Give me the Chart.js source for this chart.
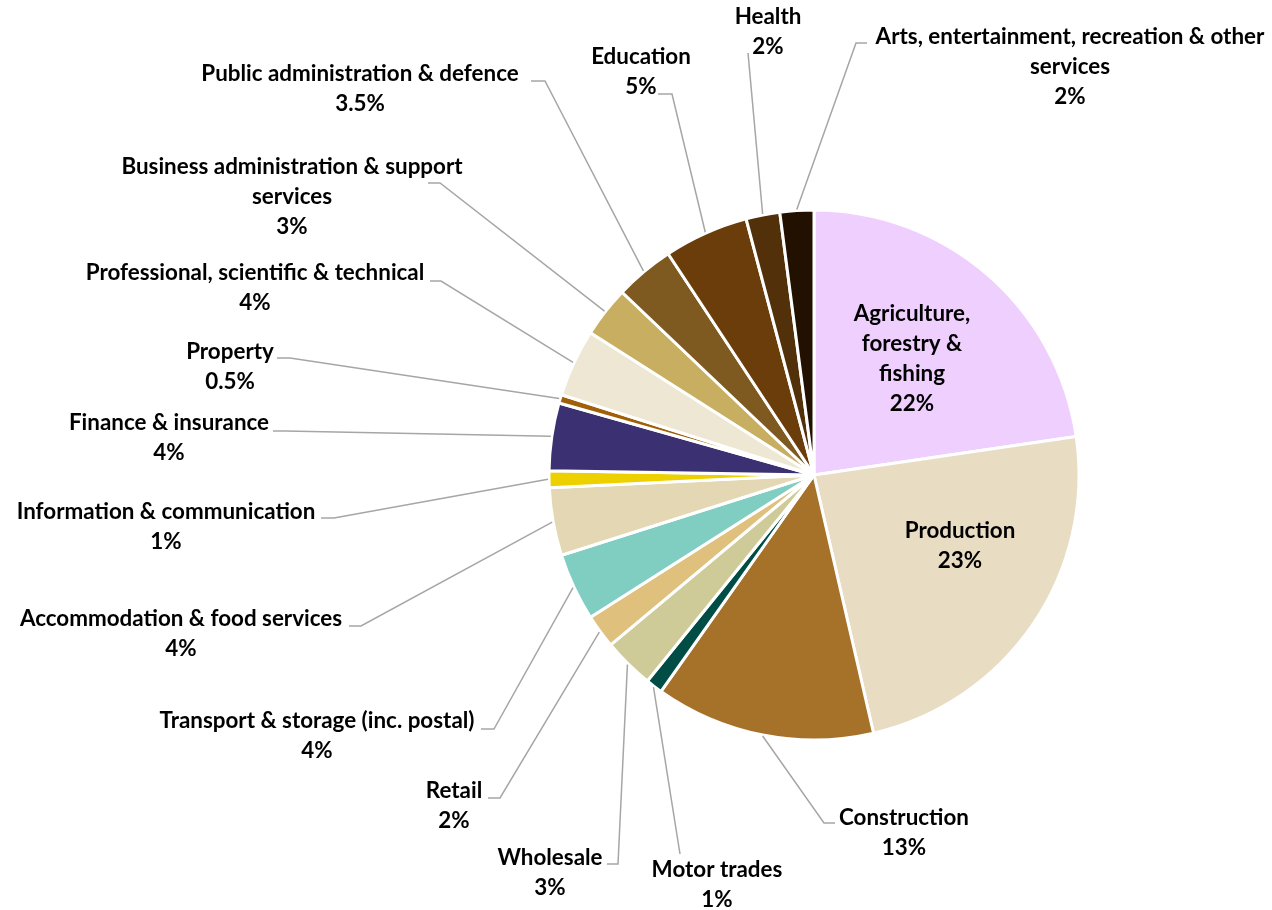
<!DOCTYPE html>
<html lang="en">
<head>
    <meta charset="UTF-8">
    <title>Business counts by broad industry</title>
    <script src="https://cdn.jsdelivr.net/npm/chart.js"></script>
    <style>
        body { margin: 0; background-color: white; }
        .chart-container { width: 1272px; height: 910px; position: relative; }
    </style>
</head>
<body>
    <div class="chart-container">
        <canvas id="industryPie"></canvas>
    </div>

    <script>
        // Share of businesses by broad industry group (%)
        const categories = [
            'Agriculture, forestry & fishing', 'Production', 'Construction', 'Motor trades',
            'Wholesale', 'Retail', 'Transport & storage (inc. postal)', 'Accommodation & food services',
            'Information & communication', 'Finance & insurance', 'Property',
            'Professional, scientific & technical', 'Business administration & support services',
            'Public administration & defence', 'Education', 'Health',
            'Arts, entertainment, recreation & other services'
        ];
        const shares = [22, 23, 13, 1, 3, 2, 4, 4, 1, 4, 0.5, 4, 3, 3.5, 5, 2, 2];
        const shareText = ['22%', '23%', '13%', '1%', '3%', '2%', '4%', '4%', '1%', '4%', '0.5%',
                           '4%', '3%', '3.5%', '5%', '2%', '2%'];

        // How each category name wraps on the chart
        const labelLines = [
            ['Agriculture,', 'forestry &', 'fishing'], ['Production'], ['Construction'], ['Motor trades'],
            ['Wholesale'], ['Retail'], ['Transport & storage (inc. postal)'], ['Accommodation & food services'],
            ['Information & communication'], ['Finance & insurance'], ['Property'],
            ['Professional, scientific & technical'], ['Business administration & support', 'services'],
            ['Public administration & defence'], ['Education'], ['Health'],
            ['Arts, entertainment, recreation & other', 'services']
        ];

        const sliceColors = [
            '#EFCFFE', '#E8DCC3', '#A67229', '#004D45', '#CFCB98', '#DFC17D', '#80CDC1', '#E3D8B3',
            '#EDD000', '#3B3172', '#A0600A', '#EEE7D3', '#C8AE60', '#7F5A20', '#6B3D0A', '#52300A', '#221000'
        ];

        // Label placement: centre x, y of the first line, then where the leader leaves the label
        // (start point and elbow point); null means the label sits inside its slice.
        const labelLayout = [
            { x: 912, y: 314, leader: null },
            { x: 960, y: 531, leader: null },
            { x: 904, y: 818, leader: [[835, 823], [824, 823]] },
            { x: 717, y: 870, leader: [[680, 854], [680, 854]] },
            { x: 550, y: 858, leader: [[607, 864], [618, 864]] },
            { x: 454, y: 791, leader: [[488, 798], [500, 798]] },
            { x: 317, y: 721, leader: [[481, 729], [494, 729]] },
            { x: 181, y: 619, leader: [[349, 626], [361, 626]] },
            { x: 166, y: 512, leader: [[321, 518], [334, 518]] },
            { x: 169, y: 423, leader: [[273, 431], [285, 431]] },
            { x: 230, y: 352, leader: [[277, 358], [290, 358]] },
            { x: 255, y: 273, leader: [[430, 281], [441, 281]] },
            { x: 292, y: 167, leader: [[428, 183], [440, 183]] },
            { x: 360, y: 74, leader: [[531, 81], [545, 81]] },
            { x: 641, y: 57, leader: [[658, 94], [672, 94]] },
            { x: 768, y: 17, leader: [[748, 53], [748, 53]] },
            { x: 1070, y: 37, leader: [[867, 43], [856, 43]] }
        ];

        const LINE_GAP = 30;

        // Draws leader lines and the name / percentage labels around the pie
        const pieLabels = {
            id: 'pieLabels',
            afterDatasetsDraw(chart) {
                const ctx = chart.ctx;
                const meta = chart.getDatasetMeta(0);
                ctx.save();

                ctx.strokeStyle = '#A6A6A6';
                ctx.lineWidth = 1.5;
                meta.data.forEach((arc, i) => {
                    const lay = labelLayout[i];
                    if (!lay.leader) return;
                    const p = arc.getProps(['x', 'y', 'startAngle', 'endAngle', 'outerRadius'], true);
                    const mid = (p.startAngle + p.endAngle) / 2;
                    const ex = p.x + Math.cos(mid) * (p.outerRadius + 1);
                    const ey = p.y + Math.sin(mid) * (p.outerRadius + 1);
                    ctx.beginPath();
                    ctx.moveTo(lay.leader[0][0], lay.leader[0][1]);
                    ctx.lineTo(lay.leader[1][0], lay.leader[1][1]);
                    ctx.lineTo(ex, ey);
                    ctx.stroke();
                });

                ctx.fillStyle = '#000';
                ctx.font = 'bold 22.4px Lato';
                ctx.textAlign = 'center';
                ctx.textBaseline = 'middle';
                labelLayout.forEach((lay, i) => {
                    const lines = labelLines[i].concat([shareText[i]]);
                    lines.forEach((t, j) => ctx.fillText(t, lay.x, lay.y + j * LINE_GAP));
                });
                ctx.restore();
            }
        };

        window.onload = function() {
            const ctx = document.getElementById('industryPie').getContext('2d');
            new Chart(ctx, {
                type: 'pie',
                data: {
                    labels: categories,
                    datasets: [{
                        data: shares,
                        backgroundColor: sliceColors,
                        borderColor: '#FFFFFF',
                        borderWidth: 3,
                        hoverOffset: 0
                    }]
                },
                options: {
                    responsive: true,
                    maintainAspectRatio: false,
                    animation: false,
                    radius: 265,
                    layout: { padding: { left: 549, right: 193, top: 210, bottom: 170 } },
                    plugins: {
                        legend: { display: false },
                        tooltip: { enabled: false }
                    },
                    events: []
                },
                plugins: [pieLabels]
            });
        };
    </script>
</body>
</html>
